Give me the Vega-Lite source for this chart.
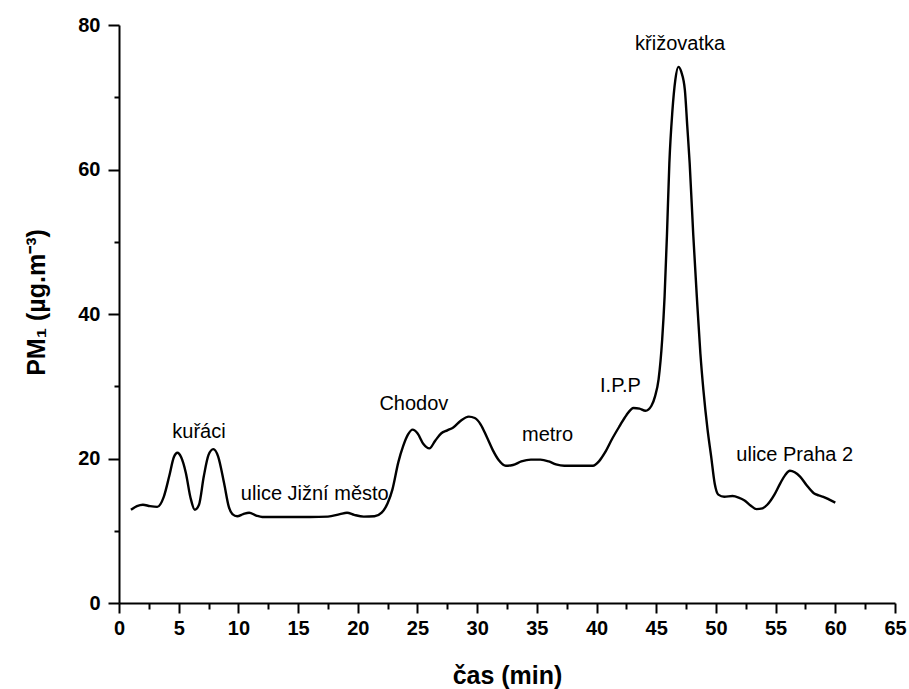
{
  "$schema": "https://vega.github.io/schema/vega-lite/v6.json",
  "width": 776,
  "height": 578,
  "autosize": {"type": "none"},
  "padding": {"left": 119, "top": 25, "right": 14, "bottom": 86},
  "background": "white",
  "config": {
    "view": {"stroke": null},
    "axis": {
      "grid": false,
      "domainColor": "black",
      "domainWidth": 2,
      "tickColor": "black",
      "tickWidth": 2,
      "labelFont": "Liberation Sans",
      "labelFontWeight": "bold",
      "labelFontSize": 20,
      "labelColor": "black",
      "labelFlush": false,
      "titleFont": "Liberation Sans",
      "titleFontWeight": "bold",
      "titleFontSize": 25,
      "titleColor": "black"
    }
  },
  "datasets": {
    "curve": [
      {"t": 1.0, "v": 12.9}, {"t": 1.5, "v": 13.4}, {"t": 2.0, "v": 13.6}, {"t": 2.6, "v": 13.4},
      {"t": 3.2, "v": 13.3}, {"t": 3.75, "v": 14.7}, {"t": 4.2, "v": 17.5}, {"t": 4.6, "v": 20.2},
      {"t": 4.9, "v": 20.8}, {"t": 5.2, "v": 20.2}, {"t": 5.6, "v": 18.0}, {"t": 6.0, "v": 14.5},
      {"t": 6.35, "v": 12.9}, {"t": 6.7, "v": 13.6}, {"t": 7.1, "v": 17.5}, {"t": 7.5, "v": 20.5},
      {"t": 7.9, "v": 21.3}, {"t": 8.3, "v": 20.3}, {"t": 8.8, "v": 16.6}, {"t": 9.2, "v": 13.3},
      {"t": 9.5, "v": 12.3}, {"t": 9.9, "v": 12.0}, {"t": 10.4, "v": 12.3}, {"t": 10.9, "v": 12.5},
      {"t": 11.5, "v": 12.1}, {"t": 12.0, "v": 11.9}, {"t": 14.0, "v": 11.9}, {"t": 16.0, "v": 11.9},
      {"t": 17.5, "v": 11.95}, {"t": 18.5, "v": 12.3}, {"t": 19.1, "v": 12.5}, {"t": 19.7, "v": 12.2},
      {"t": 20.5, "v": 11.95}, {"t": 21.4, "v": 12.0}, {"t": 22.0, "v": 12.5}, {"t": 22.5, "v": 13.8},
      {"t": 22.9, "v": 15.7}, {"t": 23.4, "v": 19.5}, {"t": 23.8, "v": 21.7}, {"t": 24.2, "v": 23.3},
      {"t": 24.6, "v": 24.0}, {"t": 25.0, "v": 23.5}, {"t": 25.5, "v": 22.0}, {"t": 26.0, "v": 21.4},
      {"t": 26.5, "v": 22.5}, {"t": 27.0, "v": 23.5}, {"t": 27.5, "v": 23.9}, {"t": 28.0, "v": 24.3},
      {"t": 28.6, "v": 25.2}, {"t": 29.3, "v": 25.8}, {"t": 29.8, "v": 25.6}, {"t": 30.3, "v": 24.7},
      {"t": 30.8, "v": 23.0}, {"t": 31.3, "v": 21.2}, {"t": 31.8, "v": 19.8}, {"t": 32.4, "v": 19.0},
      {"t": 33.0, "v": 19.1}, {"t": 33.7, "v": 19.6}, {"t": 34.5, "v": 19.85}, {"t": 35.3, "v": 19.85},
      {"t": 36.0, "v": 19.6}, {"t": 36.6, "v": 19.2}, {"t": 37.3, "v": 19.0}, {"t": 38.5, "v": 19.0},
      {"t": 39.7, "v": 19.0}, {"t": 40.2, "v": 19.6}, {"t": 40.7, "v": 20.8}, {"t": 41.3, "v": 22.7},
      {"t": 41.9, "v": 24.4}, {"t": 42.5, "v": 26.0}, {"t": 43.1, "v": 27.0}, {"t": 43.6, "v": 26.9},
      {"t": 44.1, "v": 26.6}, {"t": 44.6, "v": 27.3}, {"t": 44.9, "v": 28.6}, {"t": 45.2, "v": 31.0},
      {"t": 45.5, "v": 36.5}, {"t": 45.7, "v": 42.4}, {"t": 45.9, "v": 51.0}, {"t": 46.1, "v": 60.9},
      {"t": 46.35, "v": 68.0}, {"t": 46.6, "v": 72.4}, {"t": 46.85, "v": 74.2}, {"t": 47.1, "v": 73.5},
      {"t": 47.4, "v": 71.0}, {"t": 47.6, "v": 66.0}, {"t": 47.8, "v": 60.9}, {"t": 48.1, "v": 51.0},
      {"t": 48.4, "v": 42.4}, {"t": 48.7, "v": 34.5}, {"t": 48.95, "v": 29.5}, {"t": 49.3, "v": 24.0},
      {"t": 49.6, "v": 20.3}, {"t": 49.9, "v": 16.5}, {"t": 50.2, "v": 15.0}, {"t": 50.7, "v": 14.7},
      {"t": 51.4, "v": 14.8}, {"t": 51.9, "v": 14.6}, {"t": 52.4, "v": 14.2}, {"t": 52.9, "v": 13.5},
      {"t": 53.4, "v": 13.0}, {"t": 53.9, "v": 13.1}, {"t": 54.3, "v": 13.6}, {"t": 54.9, "v": 15.0},
      {"t": 55.4, "v": 16.6}, {"t": 55.8, "v": 17.7}, {"t": 56.2, "v": 18.3}, {"t": 56.6, "v": 18.1},
      {"t": 57.05, "v": 17.5}, {"t": 57.6, "v": 16.3}, {"t": 58.2, "v": 15.2}, {"t": 58.6, "v": 14.9},
      {"t": 59.0, "v": 14.7}, {"t": 59.5, "v": 14.3}, {"t": 60.0, "v": 13.9}
    ],
    "labels": [
      {"t": 6.7, "v": 23.6, "label": "kuřáci"},
      {"t": 16.4, "v": 15.1, "label": "ulice Jižní město"},
      {"t": 24.7, "v": 27.6, "label": "Chodov"},
      {"t": 35.9, "v": 23.3, "label": "metro"},
      {"t": 42.0, "v": 30.1, "label": "I.P.P"},
      {"t": 47.0, "v": 77.4, "label": "křižovatka"},
      {"t": 56.6, "v": 20.5, "label": "ulice Praha 2"}
    ]
  },
  "layer": [
    {
      "data": {"name": "curve"},
      "mark": {"type": "line", "color": "black", "strokeWidth": 2.4, "interpolate": "monotone"},
      "encoding": {
        "x": {
          "field": "t", "type": "quantitative",
          "scale": {"domain": [0, 65], "nice": false, "zero": false},
          "axis": {
            "orient": "bottom",
            "values": [0, 5, 10, 15, 20, 25, 30, 35, 40, 45, 50, 55, 60, 65],
            "tickSize": 10,
            "labelPadding": 5,
            "labelOverlap": false,
            "title": "čas (min)",
            "titlePadding": 25
          }
        },
        "y": {
          "field": "v", "type": "quantitative",
          "scale": {"domain": [0, 80], "nice": false},
          "axis": {
            "orient": "left",
            "values": [0, 20, 40, 60, 80],
            "tickSize": 11,
            "labelPadding": 8,
            "title": "PM₁ (µg.m⁻³)",
            "titlePadding": 28,
            "titleY": 277
          }
        }
      }
    },
    {
      "data": {"name": "curve"},
      "mark": {"type": "line", "opacity": 0},
      "encoding": {
        "x": {
          "field": "t", "type": "quantitative",
          "axis": {
            "orient": "bottom",
            "values": [2.5, 7.5, 12.5, 17.5, 22.5, 27.5, 32.5, 37.5, 42.5, 47.5, 52.5, 57.5, 62.5],
            "tickSize": 6,
            "labels": false,
            "domain": false,
            "title": null
          }
        },
        "y": {
          "field": "v", "type": "quantitative",
          "axis": {
            "orient": "left",
            "values": [10, 30, 50, 70],
            "tickSize": 5,
            "labels": false,
            "domain": false,
            "title": null
          }
        }
      }
    },
    {
      "data": {"name": "labels"},
      "mark": {"type": "text", "font": "Liberation Sans", "fontSize": 20, "color": "black", "align": "center", "baseline": "middle"},
      "encoding": {
        "x": {"field": "t", "type": "quantitative", "axis": null},
        "y": {"field": "v", "type": "quantitative", "axis": null},
        "text": {"field": "label"}
      }
    }
  ],
  "resolve": {"axis": {"x": "independent", "y": "independent"}}
}
